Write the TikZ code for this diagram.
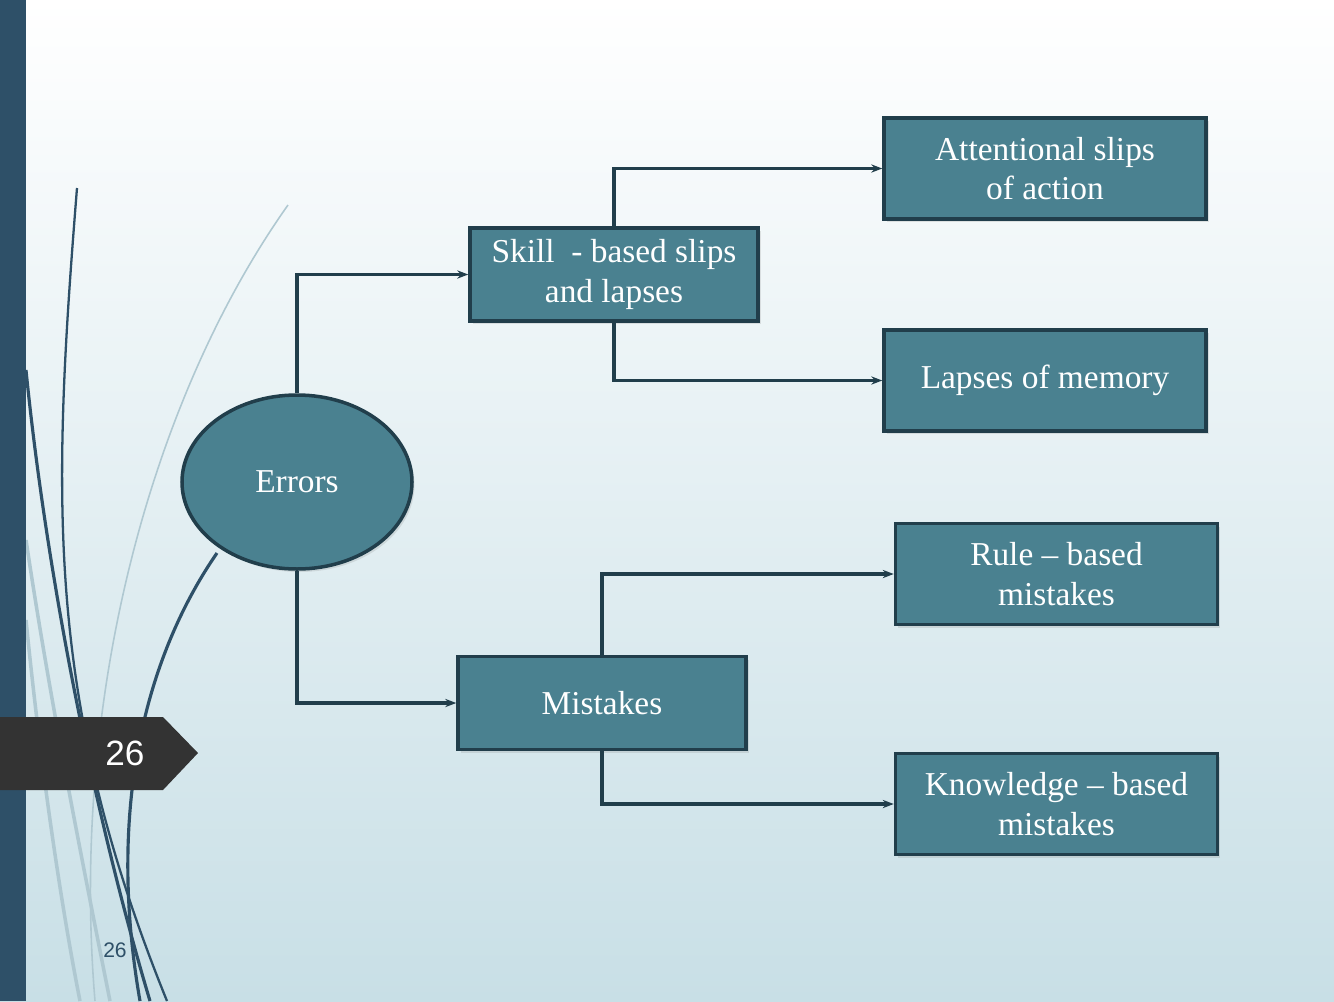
\documentclass[tikz,border=0pt]{standalone}
\usepackage{fontspec}
\setmainfont{Liberation Serif}
\newfontfamily\tagfont{Liberation Sans}
\usepackage{xcolor}
\definecolor{slnavy}{HTML}{2E5068}
\definecolor{slteal}{HTML}{4A8190}
\definecolor{slline}{HTML}{213E4B}
\definecolor{slgrey}{HTML}{AFC8D1}
\definecolor{sltag}{HTML}{333333}
\definecolor{slmid}{HTML}{EDF4F6}
\definecolor{slbottom}{HTML}{C8DFE6}
\usepackage{tikz}
\usetikzlibrary{arrows.meta,positioning,shapes.geometric,shadows}

\begin{document}
\begin{tikzpicture}[x=0.2mm,y=-0.2mm,font=\fontsize{19}{22.5}\selectfont,
 box/.style={draw=slline,fill=slteal,line width=2pt,text=white,%
   align=center,inner sep=0pt,minimum width=57.6mm,minimum height=18.6mm,%
   drop shadow={opacity=0.2,shadow xshift=0.5mm,shadow yshift=-0.6mm}},
 wide/.style={box,minimum width=64.4mm,minimum height=20.2mm},
 arr/.style={-{Stealth[length=2.2mm]},draw=slline,line width=2pt},
 swirl/.style={draw=slnavy,line width=1.8pt},
 pale/.style={draw=slgrey,line width=2pt}]
\useasboundingbox (0,0) rectangle (1334,1001);
\shade[top color=white,middle color=slmid,bottom color=slbottom]%
  (0,0) rectangle (1334,1001);
% side decoration
\draw[pale] (26,540) .. controls (50,700) and (80,850) .. (110,1001);
\draw[pale] (26,620) .. controls (40,760) and (60,900) .. (80,1001);
\draw[slgrey,line width=0.9pt] (288,205) .. controls (150,400) and (70,700) .. (95,1001);
\draw[swirl,line width=1.3pt] (77,188) .. controls (52,500) and (45,700) .. (167,1001);
\draw[swirl] (26,370) .. controls (45,560) and (90,800) .. (150,1001);
\draw[swirl] (217,553) .. controls (150,650) and (105,800) .. (140,1001);
\fill[slnavy] (0,0) rectangle (26,1001);
\fill[sltag] (0,717) -- (163,717) -- (198,753) -- (163,790) -- (0,790) -- cycle;
\node[text=white,font=\tagfont\fontsize{20}{22}\selectfont] (slideno) at (125,753) {26};
\node[text=slnavy,font=\tagfont\fontsize{12}{14}\selectfont] (pageno) at (115,950) {26};
% diagram
\node[box,ellipse,minimum width=46mm,minimum height=34.8mm] (errors) at (297,482) {Errors};
\node[box] (skill) at (614,274.5) {Skill\ \ - based slips\\and lapses};
\node[box] (mistakes) at (602,703) {Mistakes};
\node[wide] (attention) at (1045,168.5) {Attentional slips\\of action};
\node[wide] (memory) at (1045,380.5) {Lapses of memory};
\node[wide] (rule) at (1056.5,574) {Rule -- based\\mistakes};
\node[wide] (knowledge) at (1056.5,804) {Knowledge -- based\\mistakes};
\draw[arr] (errors.north) |- (skill.west);
\draw[arr] (errors.south) |- (mistakes.west);
\draw[arr] (skill.north) |- (attention.west);
\draw[arr] (skill.south) |- (memory.west);
\draw[arr] (mistakes.north) |- (rule.west);
\draw[arr] (mistakes.south) |- (knowledge.west);
\end{tikzpicture}
\end{document}
